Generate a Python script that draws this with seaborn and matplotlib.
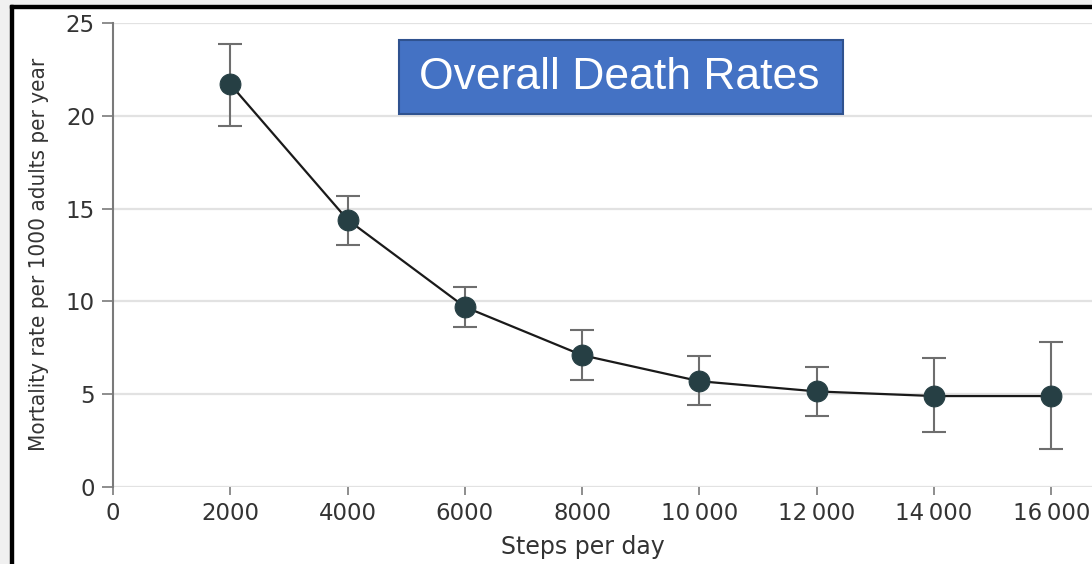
import numpy as np
import pandas as pd
import matplotlib.pyplot as plt
import seaborn as sns
from matplotlib.patches import Rectangle

steps = [2000, 4000, 6000, 8000, 10000, 12000, 14000, 16000]
mortality = [21.7, 14.4, 9.7, 7.1, 5.7, 5.15, 4.9, 4.9]
ci_low = [19.45, 13.05, 8.6, 5.75, 4.4, 3.8, 2.95, 2.05]
ci_high = [23.85, 15.7, 10.8, 8.45, 7.05, 6.45, 6.95, 7.8]
xtick_vals = [0, 2000, 4000, 6000, 8000, 10000, 12000, 14000, 16000]
xtick_labels = ['0', '2000', '4000', '6000', '8000',
                '10\u2009000', '12\u2009000', '14\u2009000', '16\u2009000']
ytick_vals = [0, 5, 10, 15, 20, 25]

df = pd.DataFrame({'Steps': steps, 'Rate': mortality})

sns.set_theme(style="white")
plt.rcParams['font.family'] = ['DejaVu Sans']

fig = plt.figure(figsize=(10.92, 5.64), dpi=100)
W, H = 1092, 564

# outer grey margin and black frame (screenshot look)
fig.patches.append(Rectangle((0, 0), 10 / W, 1, transform=fig.transFigure,
                             color='#f0f0f0', zorder=0))
fig.patches.append(Rectangle((0, 1 - 5 / H), 1, 5 / H, transform=fig.transFigure,
                             color='#f0f0f0', zorder=0))
fig.patches.append(Rectangle((10 / W, 0), 2.5 / W, 1 - 5 / H, transform=fig.transFigure,
                             color='black', zorder=1))
fig.patches.append(Rectangle((10 / W, 1 - 7.5 / H), 1, 2.5 / H, transform=fig.transFigure,
                             color='black', zorder=1))

ax = fig.add_axes([113 / W, (H - 487) / H, 1 - 113 / W, (487 - 23) / H])
ax.set_facecolor('none')

yerr = [np.array(mortality) - np.array(ci_low), np.array(ci_high) - np.array(mortality)]
ax.errorbar(steps, mortality, yerr=yerr, fmt='none', ecolor='#6e6e6e',
            elinewidth=1.5, capsize=8.5, capthick=1.5, zorder=2)
sns.lineplot(data=df, x='Steps', y='Rate', ax=ax, color='#1a1a1a', linewidth=1.6,
             marker='o', markersize=15, markerfacecolor='#263f44',
             markeredgecolor='#263f44', zorder=3)

ax.set_xlim(0, (W - 113) / 117.3 * 2000)
ax.set_ylim(0, 25)
ax.set_yticks(ytick_vals)
ax.set_xticks(xtick_vals)
ax.set_xticklabels(xtick_labels)
ax.yaxis.grid(True, color='#e2e2e2', linewidth=1.6)
ax.set_axisbelow(True)

for s in ['top', 'right', 'bottom']:
    ax.spines[s].set_visible(False)
ax.spines['left'].set_color('#7a7a7a')
ax.spines['left'].set_linewidth(1.5)

ax.tick_params(axis='y', length=8, width=1.2, color='#7a7a7a', labelsize=16.5,
               labelcolor='#333333', pad=5, left=True)
ax.tick_params(axis='x', length=6, width=1.2, color='#7a7a7a', labelsize=16.5,
               labelcolor='#333333', pad=5, bottom=True, direction='out')

ax.set_xlabel('Steps per day', fontsize=17, color='#333333')
ax.xaxis.set_label_coords((583 - 113) / (W - 113), -(547 - 487) / (487 - 23))
ax.xaxis.label.set_va('center')
ax.set_ylabel('Mortality rate per 1000 adults per year', fontsize=16, color='#333333',
              family='DejaVu Sans', fontstretch='condensed')
ax.yaxis.set_label_coords(-(113 - 39) / (W - 113), (487 - 254) / (487 - 23))
ax.yaxis.label.set_va('center')

# title box
fig.patches.append(Rectangle((399 / W, 1 - 114 / H), 444 / W, 74 / H,
                             transform=fig.transFigure, facecolor='#4472c4',
                             edgecolor='#2f528f', linewidth=1.5, zorder=5))
fig.text(619 / W, 1 - 77 / H, 'Overall Death Rates', ha='center', va='center',
         color='white', fontsize=32, family=['Liberation Sans', 'DejaVu Sans'],
         zorder=6)

fig.savefig('out.png', dpi=100)
